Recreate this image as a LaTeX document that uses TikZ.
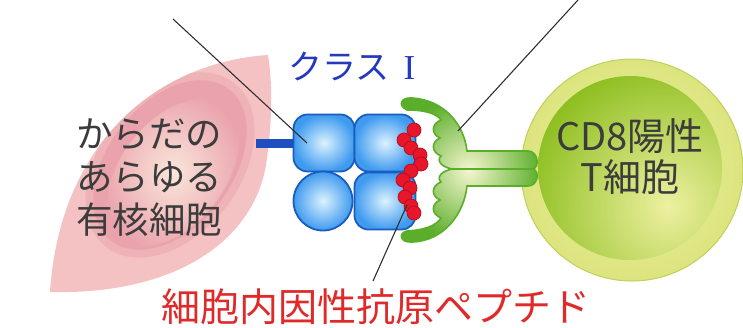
\documentclass[tikz,border=0pt]{standalone}
\usepackage{fontspec}
\setmainfont{Noto Sans CJK JP}
\newfontfamily\numeralfont{Liberation Serif}

\definecolor{leafpink}{HTML}{F4C2C2}
\definecolor{nucleuspink}{HTML}{EAA2AC}
\definecolor{nucleuscream}{HTML}{FAE6DA}
\definecolor{mhcblue}{HTML}{3F9BEF}
\definecolor{mhclight}{HTML}{DDF2FF}
\definecolor{mhcedge}{HTML}{1A5DBE}
\definecolor{mhcbar}{HTML}{1D4FC0}
\definecolor{peptred}{HTML}{E8162A}
\definecolor{peptdark}{HTML}{B0101C}
\definecolor{tcrgreen}{HTML}{5BAE2A}
\definecolor{tcrlight}{HTML}{F5F6CF}
\definecolor{tcellring}{HTML}{DCE47F}
\definecolor{tcelledge}{HTML}{BFD15A}
\definecolor{tcellgreen}{HTML}{8ABD1C}
\definecolor{tcellhi}{HTML}{EEF0A0}
\definecolor{clsblue}{HTML}{2438C0}
\definecolor{peptext}{HTML}{E02A2A}
\definecolor{textgray}{HTML}{3C3C3C}
\definecolor{leadergray}{HTML}{303030}

\newcommand{\leafoutline}{(268,55) .. controls (160,62) and (60,140) .. (50,292)
  .. controls (170,295) and (252,245) .. (266,165)
  .. controls (272,125) and (273,85) .. (268,55) -- cycle}

\tikzset{
  leader/.style={draw=leadergray, line width=1.1pt},
  blockbox/.style={shade, draw=mhcedge, line width=1.8pt, inner color=mhclight, outer color=mhcblue,
    rounded corners=14pt, minimum width=61pt, minimum height=57pt, inner sep=0pt},
  blockball/.style={blockbox, circle, rounded corners=0pt, minimum width=59pt, minimum height=59pt},
  peptdot/.style={fill=peptred, draw=peptdark, line width=0.7pt},
  celltext/.style={inner sep=0pt, text=textgray, font=\fontsize{36.5pt}{43pt}\selectfont},
}

\begin{document}
\begin{tikzpicture}[x=1pt,y=-1pt]
  \useasboundingbox (0,0) rectangle (743,327);

  % body cell with its nucleus
  \fill[leafpink] \leafoutline;
  \begin{scope}
    \clip \leafoutline;
    \fill[leafpink!50!nucleuspink, rotate around={52:(170,165)}] (170,165) ellipse (104 and 70);
    \fill[nucleuspink, rotate around={52:(170,165)}] (170,165) ellipse (96 and 62);
    \shade[rotate around={52:(170,165)}, inner color=nucleuscream, outer color=nucleuspink] (166,172) ellipse (84 and 52);
  \end{scope}

  % T cell
  \shade[inner color=tcellhi, outer color=tcellring] (632,170) circle (111);
  \draw[tcelledge, line width=1pt] (632,170) circle (111);
  \begin{scope}
    \clip (630,168) circle (92);
    \shade[inner color=tcellhi, outer color=tcellgreen] (668,206) circle (150);
  \end{scope}

  % class I molecule
  \coordinate (leafedge) at (256,143);
  \node[blockbox] (a1) at (324,143) {};
  \node[blockbox] (a2) at (385,143) {};
  \node[blockball] (a3) at (323,201) {};
  \node[blockbox] (a4) at (385,201) {};
  \draw[mhcbar, line width=9pt] (leafedge) -- (a1.west);

  % peptide
  \foreach \px/\py in {414/130, 404/140, 411/148, 420/155, 421/164, 411/171, 403/180, 410/188, 405/197, 411/206, 414/213}
    \filldraw[peptdot] (\px,\py) circle (7);

  % T cell receptor
  \shadedraw[draw=tcrgreen, line width=1.6pt, inner color=tcrlight, outer color=tcrgreen]
    (407,110) .. controls (398,106) and (400,97) .. (412,98)
    .. controls (444,100) and (464,124) .. (467,151)
    -- (528,151) .. controls (538,151) and (540,167) .. (533,169)
    .. controls (540,171) and (538,186) .. (528,186) -- (467,186)
    .. controls (464,214) and (444,241) .. (412,242)
    .. controls (400,243) and (398,233) .. (407,231)
    .. controls (424,230) and (436,226) .. (441,218)
    .. controls (431,214) and (431,204) .. (440,200)
    .. controls (431,196) and (431,186) .. (441,182)
    .. controls (436,177) and (442,171) .. (452,169)
    .. controls (442,167) and (436,161) .. (441,156)
    .. controls (431,152) and (431,142) .. (440,138)
    .. controls (431,134) and (431,124) .. (441,120)
    .. controls (436,113) and (424,110) .. (407,110) -- cycle;
  \draw[tcrgreen, line width=1.5pt] (452,169) -- (533,169);

  % pointer lines
  \coordinate (pinA) at (173,19);
  \coordinate (tipA) at (307,143);
  \coordinate (pinB) at (578,0);
  \coordinate (tipB) at (458,131);
  \coordinate (tipC) at (407,205);
  \coordinate (pinC) at (373,281);
  \draw[leader] (pinA) -- (tipA);
  \draw[leader] (pinB) -- (tipB);
  \draw[leader] (tipC) -- (pinC);

  % labels
  \node[inner sep=0pt, anchor=west, text=clsblue, font=\fontsize{34pt}{34pt}\selectfont] (clsI) at (288,67)
    {クラス\hspace{14pt}{\numeralfont\fontsize{35pt}{35pt}\selectfont I}};
  \node[celltext, anchor=west, align=left] (bodycell) at (76,178) {からだの\\あらゆる\\有核細胞};
  \node[celltext, align=center, font=\fontsize{38pt}{41pt}\selectfont] (tcelltext) at (630,157) {CD8陽性\\T細胞};
  \node[inner sep=0pt, text=peptext, font=\fontsize{39pt}{39pt}\selectfont] (peplabel) at (376,307) {細胞内因性抗原ペプチド};
\end{tikzpicture}
\end{document}
